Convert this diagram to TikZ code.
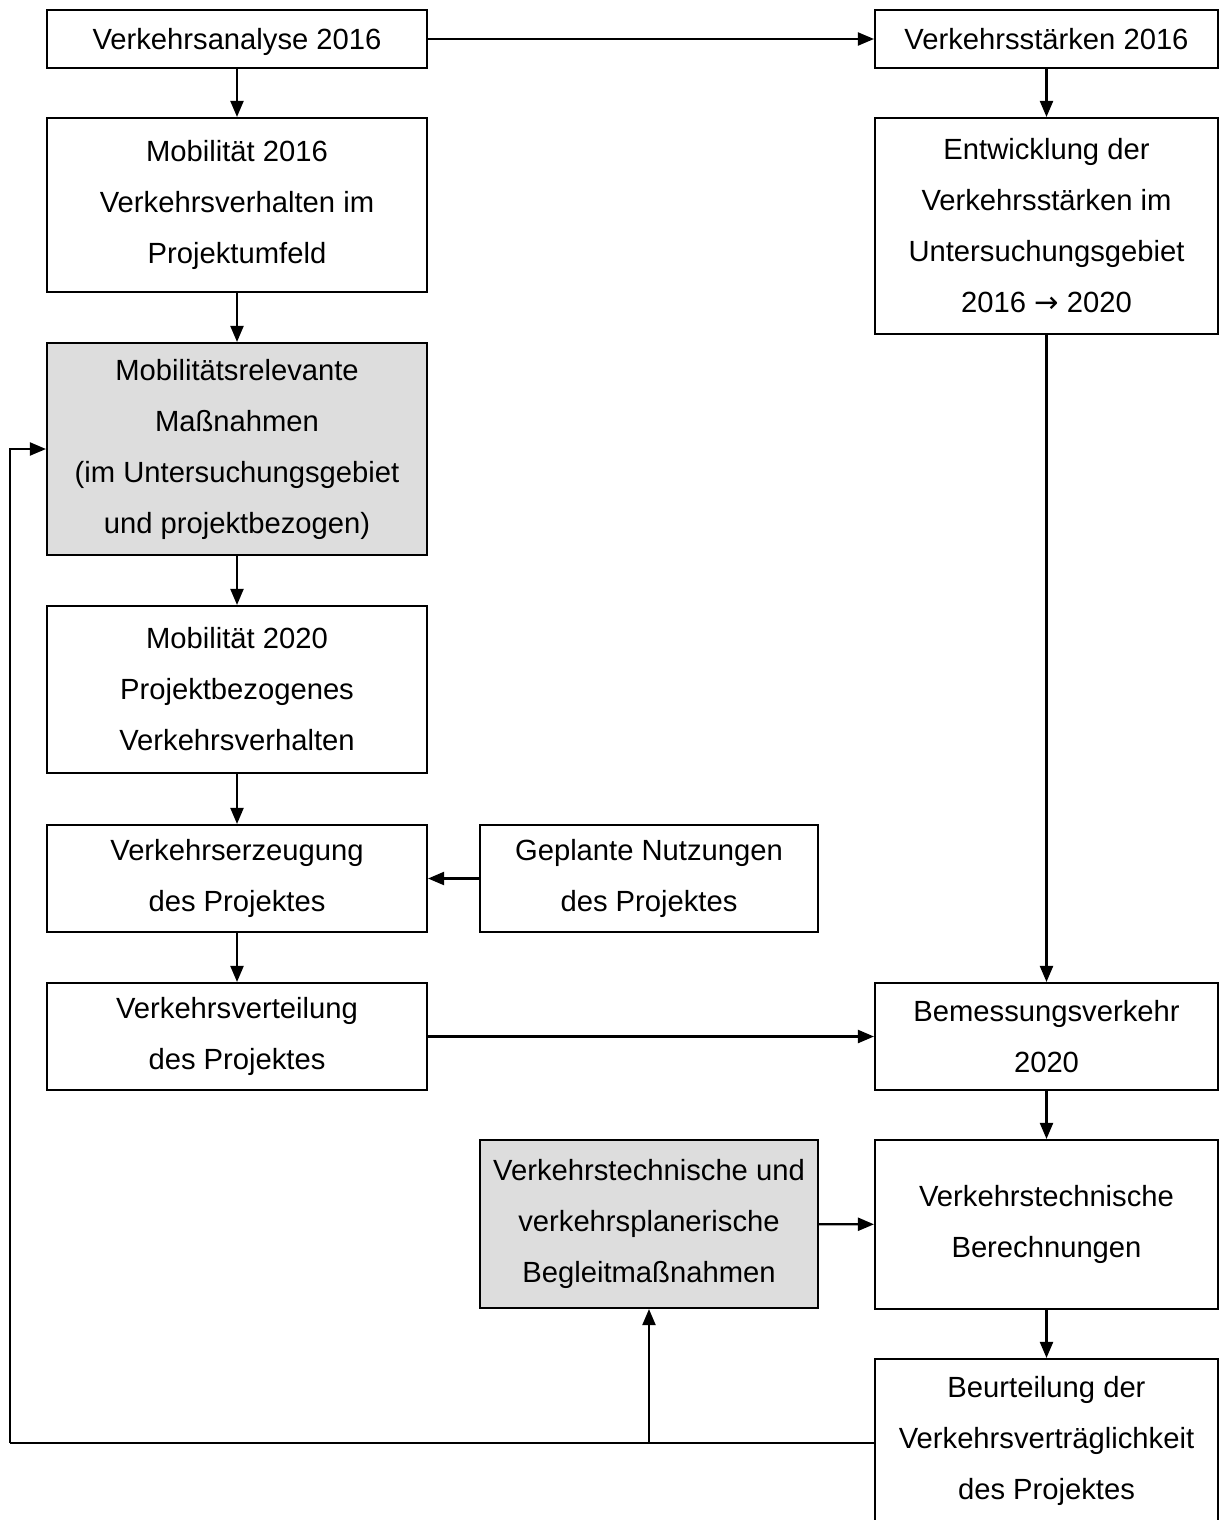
\documentclass[tikz,border=0pt]{standalone}
\usepackage{fontspec}
\setmainfont{Liberation Sans}
\newfontfamily\dejavu{DejaVu Sans}
\usetikzlibrary{arrows.meta}
\definecolor{boxgray}{HTML}{DDDDDD}
\begin{document}
\begin{tikzpicture}[x=1pt,y=1pt,
  box/.style={draw=black, line width=2.1pt, fill=white, align=center, inner sep=0pt,
    font=\fontsize{29.2}{51}\selectfont},
  graybox/.style={box, fill=boxgray},
  oneline/.style={text height=21pt, text depth=0pt},
  arr/.style={line width=2.1pt, -{Triangle[length=16pt,width=13pt]}},
  ln/.style={line width=2.1pt}]
\clip (0,0) rectangle (1221,-1520);
\newcommand{\mybox}[7]{%
  \node[#2, minimum width={#5-#3}, minimum height={#6-#4}] (#1) at ({(#3+#5)/2},{-(#4+#6)/2}) {#7};}
\mybox{A}{box,oneline}{47}{10}{427}{68}{Verkehrsanalyse 2016}
\mybox{B}{box,oneline}{875}{10}{1218}{68}{Verkehrsstärken 2016}
\mybox{C}{box}{47}{118}{427}{292}{Mobilität 2016\\Verkehrsverhalten im\\Projektumfeld}
\mybox{D}{box}{875}{118}{1218}{334}{Entwicklung der\\Verkehrsstärken im\\Untersuchungsgebiet\\2016 {\dejavu →} 2020}
\mybox{E}{graybox}{47}{343}{427}{555}{Mobilitätsrelevante\\Maßnahmen\\(im Untersuchungsgebiet\\und projektbezogen)}
\mybox{F}{box}{47}{606}{427}{773}{Mobilität 2020\\Projektbezogenes\\Verkehrsverhalten}
\mybox{G}{box}{47}{825}{427}{932}{Verkehrserzeugung\\des Projektes}
\mybox{H}{box}{480}{825}{818}{932}{Geplante Nutzungen\\des Projektes}
\mybox{I}{box}{47}{983}{427}{1090}{Verkehrsverteilung\\des Projektes}
\mybox{J}{box}{875}{983}{1218}{1090}{Bemessungsverkehr\\2020}
\mybox{K}{graybox}{480}{1140}{818}{1308}{Verkehrstechnische und\\verkehrsplanerische\\Begleitmaßnahmen}
\mybox{L}{box}{875}{1140}{1218}{1309}{Verkehrstechnische\\Berechnungen}
\mybox{M}{box}{875}{1359}{1218}{1522}{Beurteilung der\\Verkehrsverträglichkeit\\des Projektes}
\coordinate (fb) at (10,-1443);
\draw[arr] (A) -- (B);
\draw[arr] (A) -- (C);
\draw[arr] (B) -- (D);
\draw[arr] (C) -- (E);
\draw[arr] (E) -- (F);
\draw[arr] (F) -- (G);
\draw[arr] (H) -- (G);
\draw[arr] (G) -- (I);
\draw[arr] (D) -- (J);
\draw[arr] (I) -- (J);
\draw[arr] (J) -- (L);
\draw[arr] (K) -- (L);
\draw[arr] (L) -- (M);
\draw[ln] (M.west |- fb) -- (fb);
\draw[arr] (fb) -- (fb |- E.west) -- (E.west);
\draw[arr] (K.south |- fb) -- (K.south);
\end{tikzpicture}
\end{document}
